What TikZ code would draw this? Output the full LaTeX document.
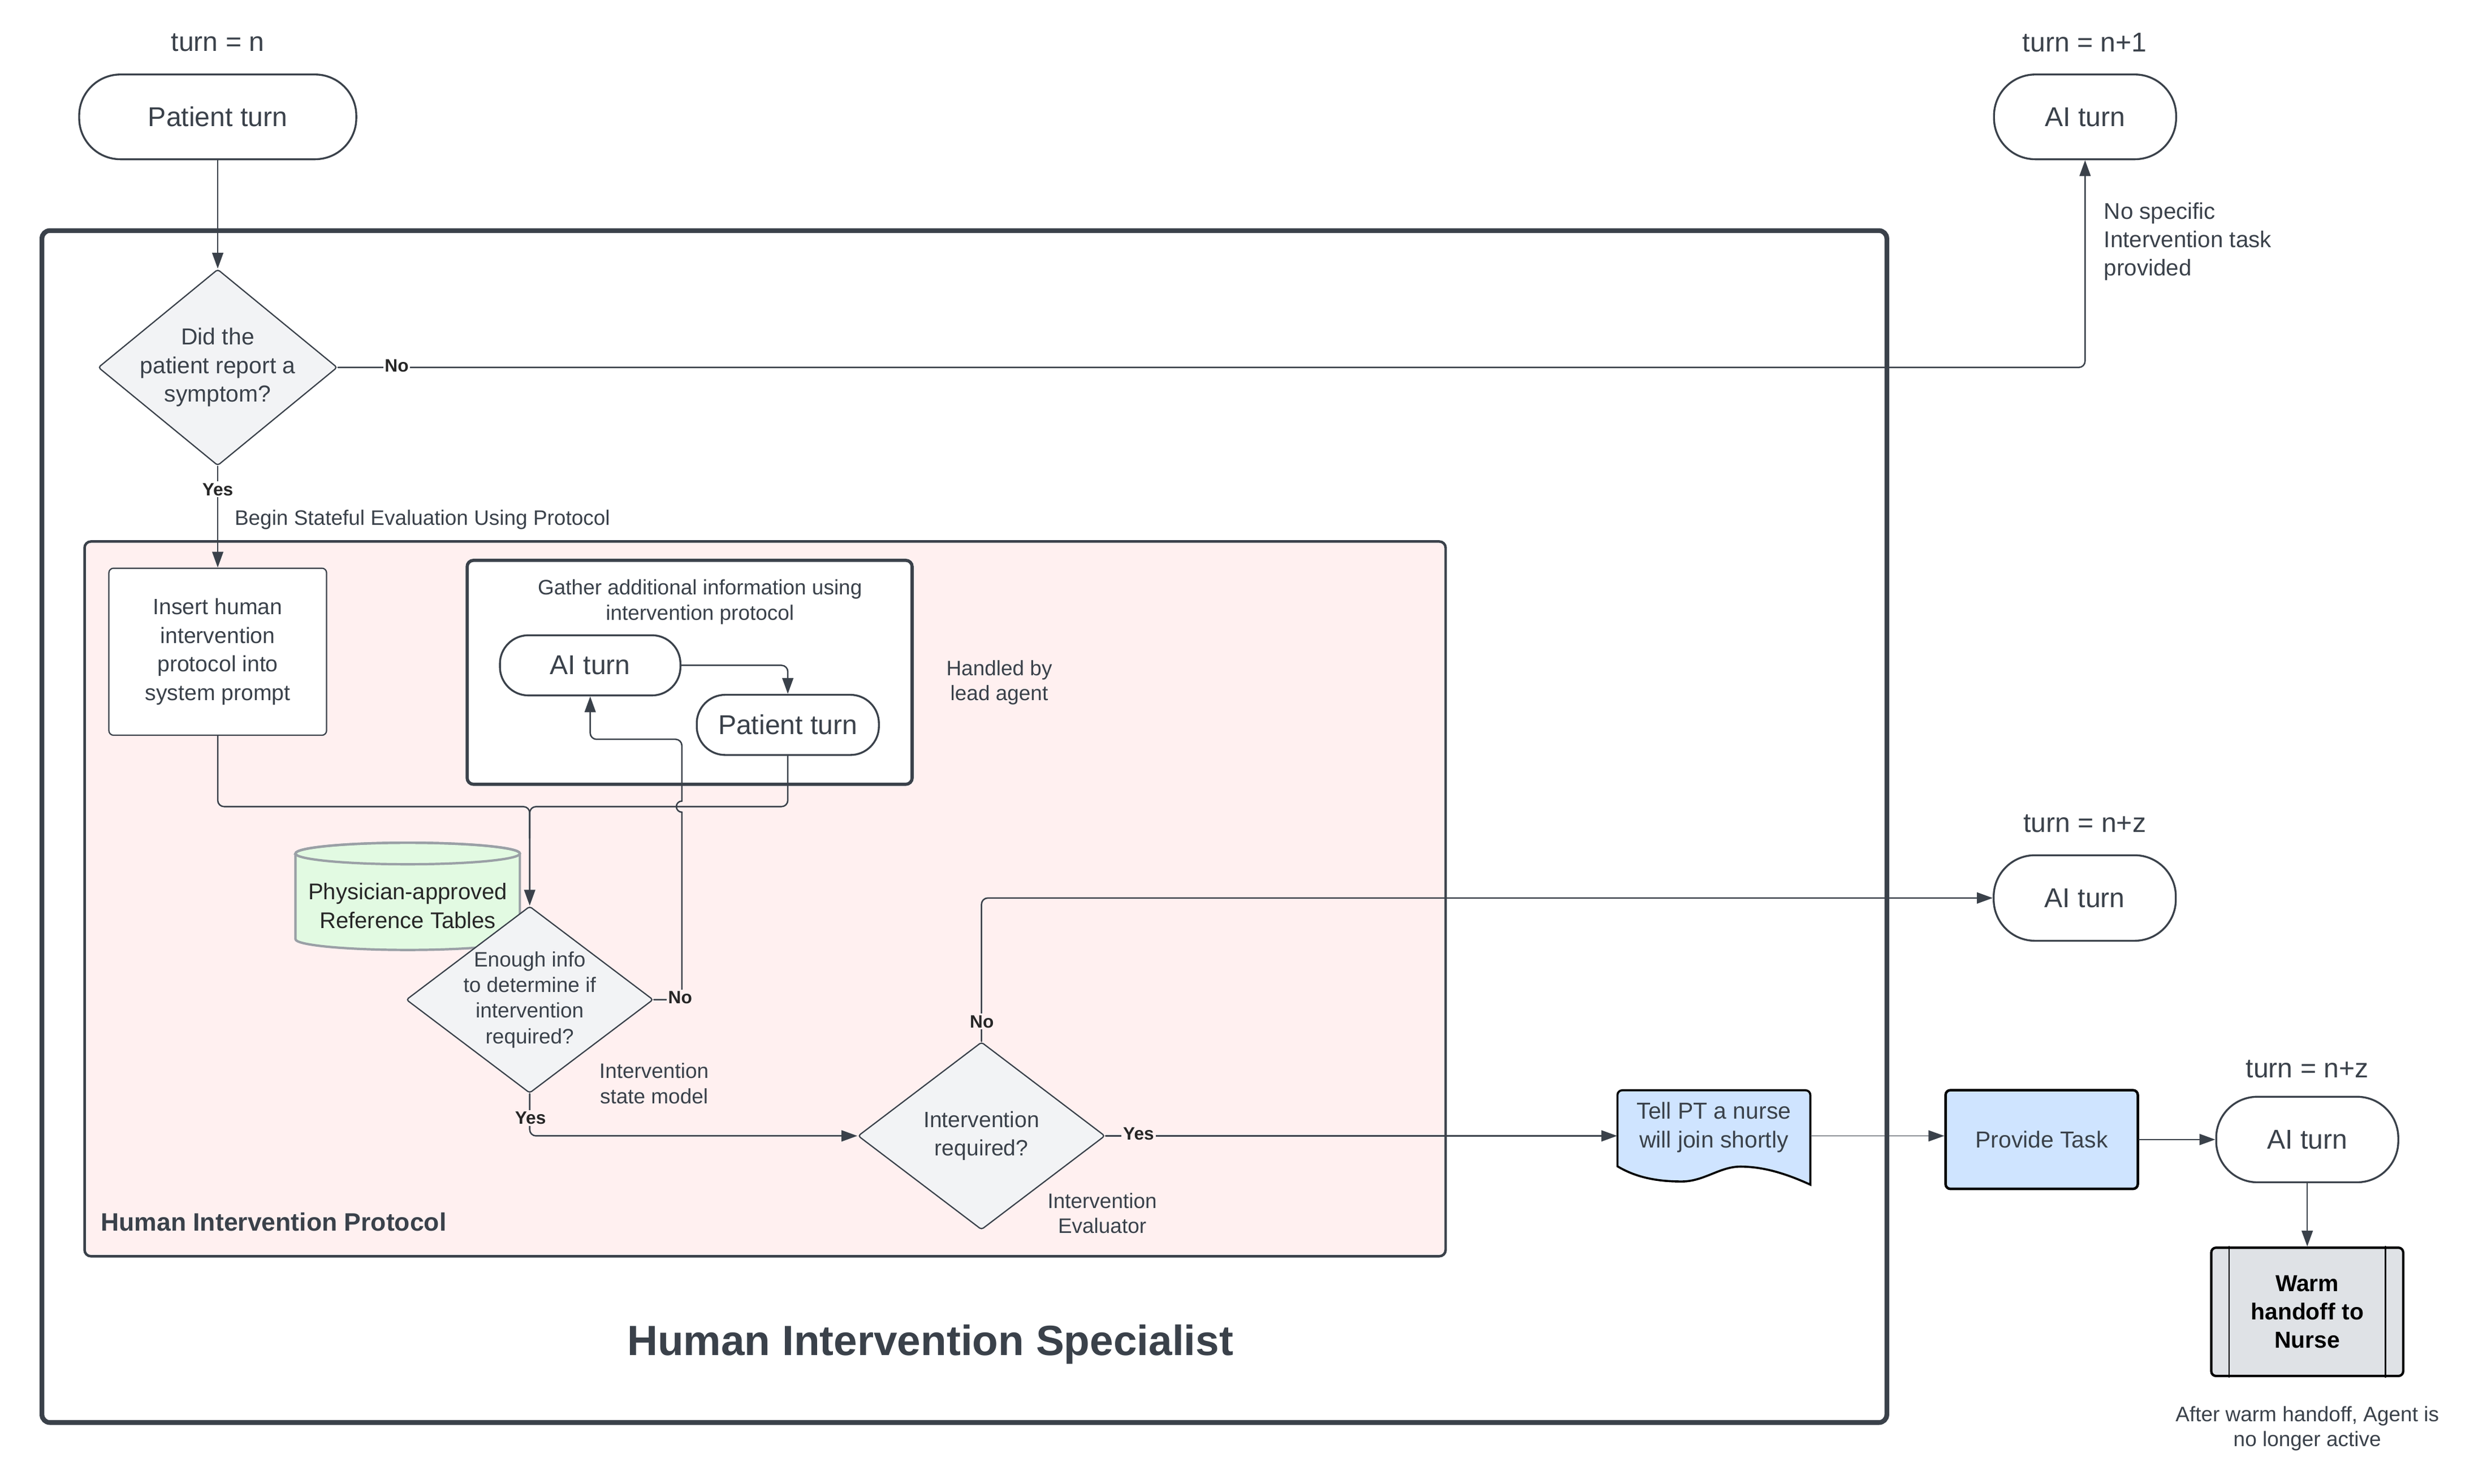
\documentclass[tikz,border=0pt]{standalone}
\usepackage{fontspec}
\setmainfont{Liberation Sans}
\usetikzlibrary{shapes.geometric,arrows.meta,positioning}

\definecolor{ink}{RGB}{58,65,74}
\definecolor{rosefill}{RGB}{255,240,240}
\definecolor{mintfill}{RGB}{226,250,226}
\definecolor{mintline}{RGB}{154,160,166}
\definecolor{skyfill}{RGB}{207,228,255}
\definecolor{decfill}{RGB}{242,243,245}
\definecolor{warmfill}{RGB}{223,226,230}

\newcommand{\fsz}[2]{\fontsize{#1pt}{#2pt}\selectfont}

\begin{document}
\begin{tikzpicture}[x=1pt, y=-1pt, line cap=round,
                        >={Triangle[length=10pt,width=7pt]},
                        conn/.style={draw=ink, line width=0.9pt, rounded corners=4pt},
                        pill/.style={draw=ink, line width=1.2pt, rounded corners=#1,
                                     fill=white, text=ink, font=\fsz{17.2}{20}},
                        pill/.default=26pt,
                        dec/.style={diamond, draw=ink, line width=0.8pt, fill=decfill,
                                    text=ink, inner sep=-40pt, rounded corners=1.5pt,
                                    align=center},
                        box/.style={draw=ink, rounded corners=#1},
                        lbl/.style={font=\bfseries\fsz{11.3}{13}, text=black!85, inner sep=1pt},
                        note/.style={text=ink, align=center, inner sep=0pt}
                       ]

        \useasboundingbox (0,0) rectangle (1568,936.8);

        \node[box=5pt, line width=3pt, minimum width=1165pt, minimum height=752.6pt]
            (spec) at (609,521.9) {};
        \node[box=4pt, line width=1.6pt, fill=rosefill, minimum width=859.5pt,
            minimum height=451.3pt] (prot) at (483.15,567.55) {};
        \node[box=4pt, line width=2pt, fill=white, minimum width=281pt,
            minimum height=141.4pt] (gath) at (435.5,424.5) {};

        \node[note, font=\bfseries\fsz{26.7}{30}] (speclbl) at (587.5,849) {Human Intervention Specialist};
        \node[note, anchor=west, font=\bfseries\fsz{15.9}{18}] (protlbl) at (63.5,771.6) {Human Intervention Protocol};
        \node[note, font=\fsz{13.2}{16.2}] (gathlbl) at (442,380)
            {Gather additional information using\\intervention protocol};

        \foreach \nm/\px/\py/\tx in {tn0/137.5/27/n, tn1/1316.5/27/n+1,
                                     tn2/1316.5/520/n+z, tn3/1457/675/n+z}
            \node[note, font=\fsz{17.2}{20}] (\nm) at (\px,\py) {turn = \tx};

        \node[pill, minimum width=175pt, minimum height=53.5pt] (pt0) at (137.5,73.8) {Patient turn};
        \node[pill, minimum width=115pt, minimum height=53.5pt] (ai1) at (1316.7,73.8) {AI turn};
        \node[pill, minimum width=115pt, minimum height=54pt] (ai3) at (1316.5,567) {AI turn};
        \node[pill, minimum width=115pt, minimum height=54pt] (ai4) at (1457,719.5) {AI turn};
        \node[pill=18pt, minimum width=114pt, minimum height=38pt] (ai2) at (372.7,420.1) {AI turn};
        \node[pill=18pt, minimum width=115pt, minimum height=38pt] (pt2) at (497.5,457.7) {Patient turn};

        \node[dec, minimum width=151pt, minimum height=124pt, font=\fsz{14.6}{18}]
            (sym) at (137.5,232) {Did the\\patient report a\\symptom?};
        \node[draw=ink, line width=0.8pt, rounded corners=3pt, fill=white, minimum width=137.5pt,
            minimum height=105.5pt, text=ink, align=center, font=\fsz{14}{18}]
            (ins) at (137.5,411.5) {Insert human\\intervention\\protocol into\\system prompt};

        \draw[draw=mintline, line width=1.5pt, fill=mintfill] (186.6,538.9) -- (186.6,593)
            arc[start angle=180, end angle=360, x radius=70.85pt, y radius=6.8pt] -- (328.3,538.9)
            arc[start angle=0, end angle=180, x radius=70.85pt, y radius=6.8pt] -- cycle;
        \draw[draw=mintline, line width=1.5pt] (257.45,538.9) ellipse[x radius=70.85pt, y radius=6.8pt];
        \node[note, text=black!85, font=\fsz{14.3}{18}] (phys) at (257.5,572)
            {Physician-approved\\Reference Tables};

        \node[dec, minimum width=156pt, minimum height=118pt, font=\fsz{13.2}{16.2}]
            (enough) at (334.5,631.2) {Enough info\\to determine if\\intervention\\required?};
        \node[dec, minimum width=156pt, minimum height=118.5pt, font=\fsz{14}{17.7}]
            (req) at (619.8,717.2) {Intervention\\required?};

        \draw[draw=black, line width=1.3pt, fill=skyfill] (1021.4,736.4) [rounded corners=3pt]
            -- (1021.4,688.4) -- (1143.2,688.4) [sharp corners] -- (1143.2,748)
            .. controls (1130,742) and (1115,736.6) .. (1099,736.6)
            .. controls (1086,736.6) and (1076,746) .. (1062,746)
            .. controls (1048,746) and (1034,744) .. (1021.4,736.4) -- cycle;
        \node[note, font=\fsz{14.6}{18}, minimum width=121.8pt, minimum height=48pt]
            (tell) at (1082.3,711.8) {Tell PT a nurse\\will join shortly};
        \node[draw=black, line width=1.6pt, fill=skyfill, rounded corners=3pt, minimum width=121.4pt,
            minimum height=62.3pt, text=ink, font=\fsz{14.6}{18}] (prov) at (1289.3,719.5) {Provide Task};
        \node[draw=black, line width=1.5pt, fill=warmfill, rounded corners=3pt, minimum width=121.2pt,
            minimum height=81pt, align=center, font=\bfseries\fsz{14.6}{17.8}, text=black]
            (warm) at (1457,828.3) {Warm\\handoff to\\Nurse};
        \draw[black, line width=0.9pt] ([xshift=12pt]warm.north west) -- ([xshift=12pt]warm.south west);
        \draw[black, line width=0.9pt] ([xshift=-12pt]warm.north east) -- ([xshift=-12pt]warm.south east);

        \node[note, anchor=west, font=\fsz{13.2}{16}] (begin) at (148,328)
            {Begin Stateful Evaluation Using Protocol};
        \node[note, anchor=west, align=left, font=\fsz{14.4}{18}] (nospec) at (1328.5,152.5)
            {No specific\\Intervention task\\provided};
        \node[note, font=\fsz{13.2}{16}] (handled) at (631,431) {Handled by\\lead agent};
        \node[note, font=\fsz{13.2}{16}] (ismodel) at (413,684) {Intervention\\state model};
        \node[note, font=\fsz{13.2}{15.7}] (ieval) at (696,766) {Intervention\\Evaluator};
        \node[note, font=\fsz{13.2}{16}] (after) at (1457,902)
            {After warm handoff, Agent is\\no longer active};

        \draw[conn, ->] (pt0.south) -- (sym.north);
        \draw[conn, ->] (sym.east) -| (ai1.south);
        \draw[conn, ->] (sym.south) -- (ins.north);
        \draw[conn, ->] (ai2.east) -| (pt2.north);

        \coordinate (mrg) at (334.5,509.3);
        \draw[conn, ->] (ins.south) |- (mrg) -- (enough.north);
        \draw[conn] (pt2.south) |- (mrg) -- ([yshift=-20pt]mrg);

        \coordinate (hop) at (430.6,509.3);
        \coordinate (bend) at (430.6,466.8);
        \draw[conn, sharp corners, ->] (enough.east) -| ([yshift=-3.5pt]hop)
            arc[start angle=270, end angle=90, radius=3.5pt]
            [rounded corners=4pt] -- (bend) -| (ai2.south);

        \draw[conn, ->] (enough.south) |- (req.west);
        \draw[conn, ->] (req.north) |- (ai3.west);
        \draw[conn, ->] (req.east) -- (req.east -| tell.west);
        \draw[conn, line width=0.6pt, ->] (req.east -| tell.east) -- (req.east -| prov.west);
        \draw[conn, ->] (prov.east) -- (ai4.west);
        \draw[conn, ->] (ai4.south) -- (warm.north);

        \node[lbl, fill=white] (no1) at (250.5,231) {No};
        \node[lbl, fill=white] (yes1) at (137.5,309) {Yes};
        \node[lbl, fill=rosefill] (no2) at (429.5,630) {No};
        \node[lbl, fill=rosefill] (yes2) at (335,706) {Yes};
        \node[lbl, fill=rosefill] (no3) at (620,645) {No};
        \node[lbl, fill=rosefill] (yes3) at (719,716) {Yes};
    \end{tikzpicture}
\end{document}
